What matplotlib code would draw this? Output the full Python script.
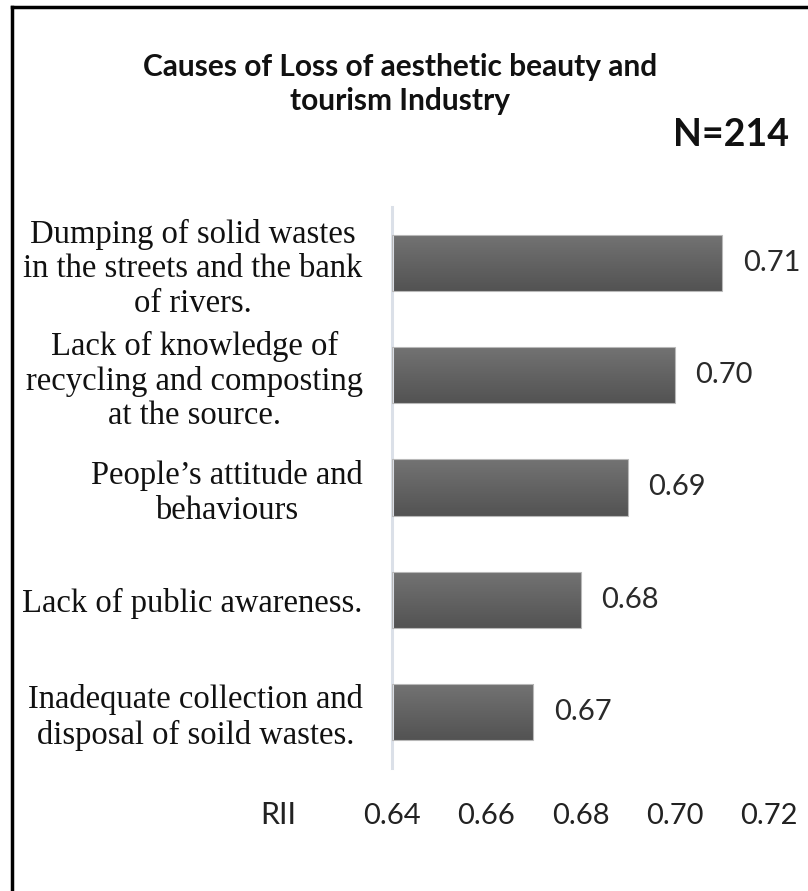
import numpy as np
import matplotlib.pyplot as plt
from matplotlib.lines import Line2D
from matplotlib.colors import LinearSegmentedColormap

causes = [
    "Dumping of solid wastes\nin the streets and the bank\nof rivers.",
    "Lack of knowledge of\nrecycling and composting\nat the source.",
    "People\u2019s attitude and\nbehaviours",
    "Lack of public awareness.",
    "Inadequate collection and\ndisposal of soild wastes.",
]
rii = [0.71, 0.70, 0.69, 0.68, 0.67]
rii_labels = ["0.71", "0.70", "0.69", "0.68", "0.67"]
xticks = [0.64, 0.66, 0.68, 0.70, 0.72]
xtick_labels = ["0.64", "0.66", "0.68", "0.70", "0.72"]

fig = plt.figure(figsize=(8.08, 8.91), dpi=100)
ax = fig.add_axes([392 / 808, 1 - 768 / 891, 377 / 808, 561 / 891])

ypos = np.arange(len(causes))
bars = ax.barh(ypos, [v - 0.64 for v in rii], left=0.64, height=0.5,
               facecolor="none", edgecolor="#b8b8b8", linewidth=0.8, zorder=3)

# vertical grey gradient inside each bar
grey = LinearSegmentedColormap.from_list("grey_bar", ["#737373", "#535353"])
grad = np.linspace(0, 1, 64).reshape(-1, 1)
for b in bars:
    x0, y0 = b.get_x(), b.get_y()
    im = ax.imshow(grad, cmap=grey, aspect="auto",
                   extent=(x0, x0 + b.get_width(), y0 + b.get_height(), y0), zorder=2)
    im.set_clip_path(b)

for b, txt in zip(bars, rii_labels):
    ax.annotate(txt, (b.get_x() + b.get_width(), b.get_y() + b.get_height() / 2),
                xytext=(15, 0), textcoords="offset points", ha="left", va="center",
                fontsize=21, family="Lato", color="#2a2a2a")

ax.set_xlim(0.64, 0.72)
ax.set_ylim(len(causes) - 0.5, -0.5)
ax.set_yticks(ypos)
ax.set_yticklabels(causes, family="Liberation Serif", fontsize=23.5, color="#111111")
for lab in ax.get_yticklabels():
    lab.set_multialignment("center")
    lab.set_linespacing(1.17)
ax.set_xticks(xticks)
ax.set_xticklabels(xtick_labels, family="Lato", fontsize=21, color="#222222")
ax.tick_params(axis="y", length=0, pad=21)
ax.tick_params(axis="x", length=0, pad=25)

for s in ["top", "right", "bottom"]:
    ax.spines[s].set_visible(False)
ax.spines["left"].set_color("#dbe0e8")
ax.spines["left"].set_linewidth(2.2)

fig.text(278 / 808, 1 - 815 / 891, "RII", ha="center", va="center",
         family="Lato", fontsize=22, color="#222222")

fig.text(400 / 808, 1 - 84 / 891,
         "Causes of Loss of aesthetic beauty and\ntourism Industry",
         ha="center", va="center", family="Lato", fontweight="bold",
         fontsize=21.5, linespacing=1.3, color="#111111")
fig.text(731 / 808, 1 - 135 / 891, "N=214", ha="center", va="center",
         family="Lato", fontweight="bold", fontsize=27, color="#111111")

# frame lines on the left and top of the figure
fig.add_artist(Line2D([12 / 808, 12 / 808], [0, 1 - 7 / 891],
                      transform=fig.transFigure, color="black", linewidth=2.5))
fig.add_artist(Line2D([12 / 808, 1], [1 - 7 / 891, 1 - 7 / 891],
                      transform=fig.transFigure, color="black", linewidth=2.5))

fig.savefig("out.png", dpi=100, facecolor="white")
